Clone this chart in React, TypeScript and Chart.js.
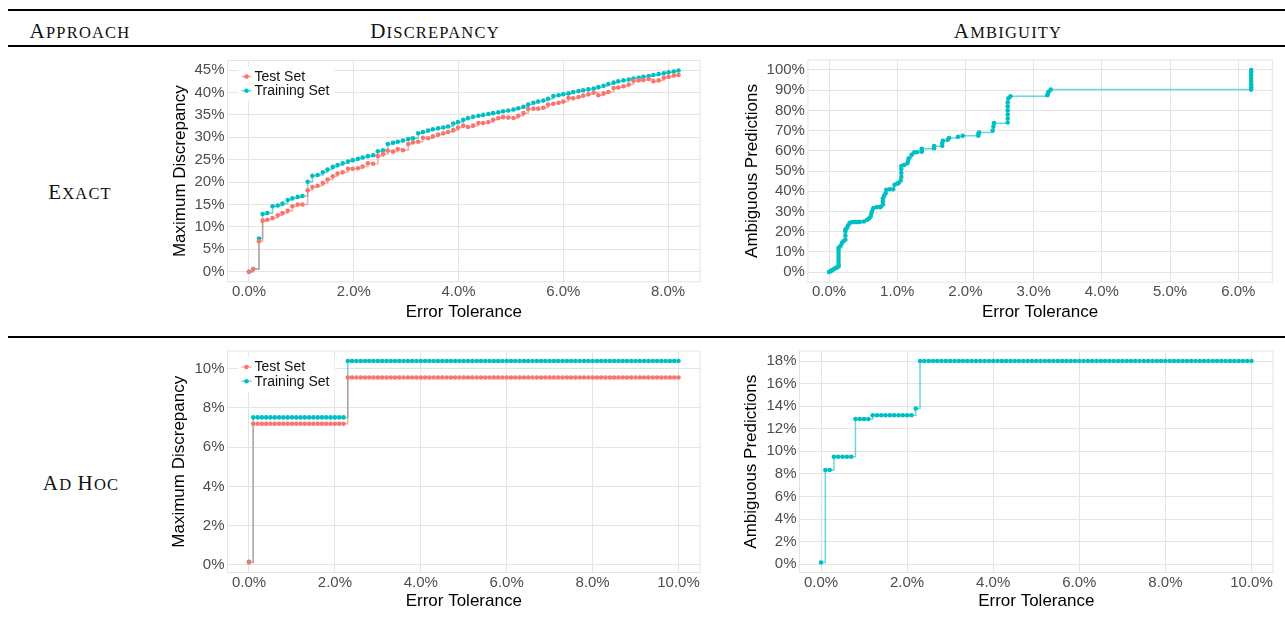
import React, { useEffect, useRef } from 'react';
import { Chart, registerables } from 'chart.js';

Chart.register(...registerables);

// ---------------- DATA ----------------
const seriesLabels = ['Test Set', 'Training Set'];
const rowLabels = ['Exact', 'Ad Hoc'];
const columnLabels = ['Approach', 'Discrepancy', 'Ambiguity'];
const xAxisTitle = 'Error Tolerance';
const discTitle = 'Maximum Discrepancy';
const ambTitle = 'Ambiguous Predictions';

// Exact approach: discrepancy vs error tolerance (%)
const exactTolerance = [
  0, 0.08, 0.19, 0.26, 0.35, 0.45, 0.55, 0.64, 0.74, 0.83, 0.93, 1.02, 1.12, 1.21, 1.31, 1.41, 1.5, 1.6,
  1.69, 1.79, 1.89, 1.98, 2.08, 2.17, 2.27, 2.37, 2.46, 2.56, 2.65, 2.75, 2.84, 2.94, 3.04, 3.13, 3.23,
  3.32, 3.42, 3.51, 3.61, 3.71, 3.8, 3.9, 3.99, 4.09, 4.18, 4.28, 4.38, 4.47, 4.57, 4.66, 4.76, 4.85,
  4.95, 5.05, 5.14, 5.24, 5.33, 5.43, 5.52, 5.62, 5.71, 5.81, 5.91, 6.0, 6.1, 6.19, 6.29, 6.38, 6.48,
  6.58, 6.67, 6.77, 6.86, 6.96, 7.05, 7.15, 7.25, 7.34, 7.44, 7.53, 7.63, 7.72, 7.82, 7.92, 8.01, 8.11, 8.2,
];
const exactTestDisc = [
  0.0, 0.6, 6.8, 11.4, 11.6, 12.0, 12.6, 13.1, 13.6, 14.6, 15.0, 15.0, 18.2, 18.9, 19.2, 19.8, 20.6, 21.3,
  21.9, 22.2, 23.0, 23.0, 23.1, 23.5, 24.2, 24.1, 25.8, 26.3, 27.0, 26.8, 27.4, 27.1, 28.5, 28.9, 29.0,
  29.9, 29.8, 30.2, 30.6, 30.9, 31.2, 31.6, 32.2, 32.6, 32.3, 32.6, 33.2, 33.2, 33.4, 33.9, 34.3, 34.5,
  34.4, 34.3, 34.8, 35.4, 36.3, 36.4, 36.4, 36.6, 37.3, 37.5, 37.7, 38.0, 38.8, 38.7, 39.0, 39.3, 39.6,
  40.0, 39.4, 39.8, 40.1, 41.0, 41.1, 41.4, 41.8, 42.6, 42.7, 42.8, 43.0, 42.5, 42.7, 43.3, 43.5, 43.8, 43.9,
];
const exactTrainDisc = [
  0.0, 0.6, 7.4, 12.9, 13.1, 14.6, 14.8, 15.2, 16.0, 16.4, 16.7, 16.9, 20.1, 21.4, 21.6, 22.2, 22.8, 23.4,
  23.8, 24.2, 24.6, 24.9, 25.2, 25.5, 25.8, 26.0, 26.9, 27.1, 28.5, 28.8, 29.0, 29.3, 29.6, 29.8, 30.9,
  31.2, 31.5, 31.8, 32.0, 32.2, 32.4, 33.1, 33.4, 33.9, 34.3, 34.6, 34.8, 35.0, 35.2, 35.4, 35.6, 35.8,
  36.0, 36.2, 36.5, 36.8, 37.3, 37.7, 38.0, 38.2, 38.6, 39.2, 39.4, 39.6, 39.8, 40.1, 40.3, 40.5, 40.7,
  40.9, 41.2, 41.5, 41.9, 42.2, 42.5, 42.7, 42.9, 43.1, 43.3, 43.5, 43.7, 43.9, 44.1, 44.3, 44.5, 44.7, 44.9,
];

// Exact approach: ambiguity vs error tolerance (%)
const exactAmbTolerance = [
  0, 0.02, 0.04, 0.06, 0.08, 0.1, 0.12, 0.14,
  0.14, 0.14, 0.14, 0.14, 0.14, 0.14, 0.14,
  0.17, 0.19, 0.21,
  0.24, 0.24, 0.24, 0.24,
  0.26, 0.28, 0.3,
  0.33, 0.37, 0.41, 0.45,
  0.51, 0.56, 0.59, 0.61, 0.62, 0.63, 0.65, 0.7, 0.75,
  0.79, 0.79, 0.79, 0.81, 0.83, 0.84, 0.89, 0.94,
  0.96, 1.0, 1.02, 1.05,
  1.06, 1.06, 1.06, 1.06,
  1.1, 1.15, 1.16, 1.17, 1.21, 1.25, 1.29,
  1.36, 1.36, 1.36,
  1.54, 1.54,
  1.66, 1.66, 1.67, 1.74, 1.76, 1.89, 1.96,
  2.19, 2.19, 2.2,
  2.4, 2.41, 2.42,
  2.62, 2.62, 2.62, 2.62, 2.62, 2.62, 2.63, 2.66,
  3.2, 3.21, 3.22, 3.25,
  6.19, 6.19, 6.19, 6.19, 6.19, 6.19, 6.19, 6.19,
];
const exactAmbiguous = [
  0, 0.4, 0.8, 1.2, 1.6, 2.0, 2.4, 2.8,
  3.6, 5.0, 6.5, 8.0, 9.5, 11.0, 12.0,
  13.0, 14.3, 15.2,
  16.0, 18.0, 20.0, 21.0,
  21.7, 23.0, 24.2,
  24.6, 24.7, 24.7, 24.8,
  25.0, 25.9, 26.6, 27.5, 28.8, 30.0, 31.6, 32.1, 32.1,
  33.5, 35.0, 36.5, 37.8, 39.0, 40.7, 41.0, 41.0,
  43.2, 43.8, 44.0, 45.3,
  47.0, 49.0, 51.0, 52.5,
  53.0, 53.9, 55.0, 56.3, 58.0, 59.3, 59.3,
  59.5, 60.3, 61.0,
  61.3, 62.3,
  62.5, 63.8, 65.0, 65.5, 66.3, 66.9, 67.4,
  67.5, 68.3, 69.0,
  70.0, 72.0, 73.7,
  74.0, 76.0, 78.0, 80.0, 82.0, 84.0, 86.0, 87.0,
  87.5, 88.3, 89.2, 90.3,
  90.3, 91.5, 93.0, 94.5, 96.0, 97.5, 99.0, 100.0,
];

// Ad hoc approach (%)
const adHocTolerance = [
  0.0, 0.1, 0.2, 0.3, 0.4, 0.5, 0.6, 0.7, 0.8, 0.9,
  1.0, 1.1, 1.2, 1.3, 1.4, 1.5, 1.6, 1.7, 1.8, 1.9,
  2.0, 2.1, 2.2, 2.3, 2.4, 2.5, 2.6, 2.7, 2.8, 2.9,
  3.0, 3.1, 3.2, 3.3, 3.4, 3.5, 3.6, 3.7, 3.8, 3.9,
  4.0, 4.1, 4.2, 4.3, 4.4, 4.5, 4.6, 4.7, 4.8, 4.9,
  5.0, 5.1, 5.2, 5.3, 5.4, 5.5, 5.6, 5.7, 5.8, 5.9,
  6.0, 6.1, 6.2, 6.3, 6.4, 6.5, 6.6, 6.7, 6.8, 6.9,
  7.0, 7.1, 7.2, 7.3, 7.4, 7.5, 7.6, 7.7, 7.8, 7.9,
  8.0, 8.1, 8.2, 8.3, 8.4, 8.5, 8.6, 8.7, 8.8, 8.9,
  9.0, 9.1, 9.2, 9.3, 9.4, 9.5, 9.6, 9.7, 9.8, 9.9,
  10.0,
];
const adHocTestDisc = [
  0.13, 7.2, 7.2, 7.2, 7.2, 7.2, 7.2, 7.2, 7.2, 7.2,
  7.2, 7.2, 7.2, 7.2, 7.2, 7.2, 7.2, 7.2, 7.2, 7.2,
  7.2, 7.2, 7.2, 9.55, 9.55, 9.55, 9.55, 9.55, 9.55, 9.55,
  9.55, 9.55, 9.55, 9.55, 9.55, 9.55, 9.55, 9.55, 9.55, 9.55,
  9.55, 9.55, 9.55, 9.55, 9.55, 9.55, 9.55, 9.55, 9.55, 9.55,
  9.55, 9.55, 9.55, 9.55, 9.55, 9.55, 9.55, 9.55, 9.55, 9.55,
  9.55, 9.55, 9.55, 9.55, 9.55, 9.55, 9.55, 9.55, 9.55, 9.55,
  9.55, 9.55, 9.55, 9.55, 9.55, 9.55, 9.55, 9.55, 9.55, 9.55,
  9.55, 9.55, 9.55, 9.55, 9.55, 9.55, 9.55, 9.55, 9.55, 9.55,
  9.55, 9.55, 9.55, 9.55, 9.55, 9.55, 9.55, 9.55, 9.55, 9.55,
  9.55,
];
const adHocTrainDisc = [
  0.16, 7.52, 7.52, 7.52, 7.52, 7.52, 7.52, 7.52, 7.52, 7.52,
  7.52, 7.52, 7.52, 7.52, 7.52, 7.52, 7.52, 7.52, 7.52, 7.52,
  7.52, 7.52, 7.52, 10.39, 10.39, 10.39, 10.39, 10.39, 10.39, 10.39,
  10.39, 10.39, 10.39, 10.39, 10.39, 10.39, 10.39, 10.39, 10.39, 10.39,
  10.39, 10.39, 10.39, 10.39, 10.39, 10.39, 10.39, 10.39, 10.39, 10.39,
  10.39, 10.39, 10.39, 10.39, 10.39, 10.39, 10.39, 10.39, 10.39, 10.39,
  10.39, 10.39, 10.39, 10.39, 10.39, 10.39, 10.39, 10.39, 10.39, 10.39,
  10.39, 10.39, 10.39, 10.39, 10.39, 10.39, 10.39, 10.39, 10.39, 10.39,
  10.39, 10.39, 10.39, 10.39, 10.39, 10.39, 10.39, 10.39, 10.39, 10.39,
  10.39, 10.39, 10.39, 10.39, 10.39, 10.39, 10.39, 10.39, 10.39, 10.39,
  10.39,
];
const adHocAmbiguous = [
  0.15, 8.34, 8.34, 9.52, 9.52, 9.52, 9.52, 9.52, 12.86, 12.86,
  12.86, 12.86, 13.2, 13.2, 13.2, 13.2, 13.2, 13.2, 13.2, 13.2,
  13.2, 13.2, 13.8, 18.0, 18.0, 18.0, 18.0, 18.0, 18.0, 18.0,
  18.0, 18.0, 18.0, 18.0, 18.0, 18.0, 18.0, 18.0, 18.0, 18.0,
  18.0, 18.0, 18.0, 18.0, 18.0, 18.0, 18.0, 18.0, 18.0, 18.0,
  18.0, 18.0, 18.0, 18.0, 18.0, 18.0, 18.0, 18.0, 18.0, 18.0,
  18.0, 18.0, 18.0, 18.0, 18.0, 18.0, 18.0, 18.0, 18.0, 18.0,
  18.0, 18.0, 18.0, 18.0, 18.0, 18.0, 18.0, 18.0, 18.0, 18.0,
  18.0, 18.0, 18.0, 18.0, 18.0, 18.0, 18.0, 18.0, 18.0, 18.0,
  18.0, 18.0, 18.0, 18.0, 18.0, 18.0, 18.0, 18.0, 18.0, 18.0,
  18.0,
];

// Tick values
const exactDiscXTicks = [0, 2, 4, 6, 8];
const exactDiscYTicks = [0, 5, 10, 15, 20, 25, 30, 35, 40, 45];
const exactAmbXTicks = [0, 1, 2, 3, 4, 5, 6];
const exactAmbYTicks = [0, 10, 20, 30, 40, 50, 60, 70, 80, 90, 100];
const adHocXTicks = [0, 2, 4, 6, 8, 10];
const adHocDiscYTicks = [0, 2, 4, 6, 8, 10];
const adHocAmbYTicks = [0, 2, 4, 6, 8, 10, 12, 14, 16, 18];

// ---------------- STYLE ----------------
const RED = '#F8766D';
const TEAL = '#00BFC4';
const RED_LINE = 'rgba(248,118,109,0.6)';
const TEAL_LINE = 'rgba(0,191,196,0.6)';
const GRID = '#E4E4E4';
const SANS = "'Liberation Sans', Arial, Helvetica, sans-serif";
const SERIF = "'Liberation Serif', 'Times New Roman', serif";

const toPoints = (xs: number[], ys: number[]) => xs.map((x, i) => ({ x, y: ys[i] }));
const expand = (vals: number[]) => {
  const lo = Math.min(...vals);
  const hi = Math.max(...vals);
  const pad = (hi - lo) * 0.05;
  return [lo - pad, hi + pad];
};

const panelDecor = {
  id: 'panelDecor',
  beforeDatasetsDraw(chart: any, _args: any, opts: any) {
    const { ctx, chartArea: a } = chart;
    ctx.save();
    ctx.strokeStyle = GRID;
    ctx.lineWidth = 1;
    ctx.strokeRect(a.left, a.top, a.right - a.left, a.bottom - a.top);
    if (opts && opts.legend) {
      const fs = 14;
      ctx.font = `${fs}px ${SANS}`;
      const dsets = chart.data.datasets;
      const dotX = a.left + 19;
      const firstY = a.top + 16;
      const rowH = 14.2;
      const textX = dotX + 8;
      const tw = Math.max(...dsets.map((d: any) => ctx.measureText(d.label).width));
      ctx.fillStyle = '#ffffff';
      ctx.fillRect(dotX - 9, firstY - 10, textX + tw + 5 - (dotX - 9), rowH * (dsets.length - 1) + 20);
      dsets.forEach((d: any, i: number) => {
        const cy = firstY + i * rowH;
        ctx.strokeStyle = d.borderColor;
        ctx.lineWidth = 1.5;
        ctx.beginPath();
        ctx.moveTo(dotX - 5, cy);
        ctx.lineTo(dotX + 5, cy);
        ctx.stroke();
        ctx.fillStyle = d.pointBackgroundColor;
        ctx.beginPath();
        ctx.arc(dotX, cy, 2.3, 0, Math.PI * 2);
        ctx.fill();
        ctx.fillStyle = '#111';
        ctx.textBaseline = 'middle';
        ctx.textAlign = 'left';
        ctx.fillText(d.label, textX, cy + 0.5);
      });
    }
    ctx.restore();
  },
};

type PanelCfg = {
  left: number; right: number; top: number; bottom: number;
  yTitleX: number; xTitleY: number;
  xVals: number[]; yVals: number[];
  xTicks: number[]; yTicks: number[];
  yTitle: string; legend: boolean;
  datasets: any[];
};

const mkSet = (label: string, color: string, line: string, pts: any[]) => ({
  label,
  data: pts,
  borderColor: line,
  backgroundColor: color,
  pointBackgroundColor: color,
  pointBorderWidth: 0,
  pointRadius: 2.3,
  borderWidth: 1.5,
  stepped: true,
  fill: false,
});

const panels: PanelCfg[] = [
  {
    left: 227.5, right: 700, top: 60.5, bottom: 281.8, yTitleX: 180, xTitleY: 312,
    xVals: exactTolerance, yVals: [...exactTestDisc, ...exactTrainDisc],
    xTicks: exactDiscXTicks, yTicks: exactDiscYTicks, yTitle: discTitle, legend: true,
    datasets: [
      mkSet(seriesLabels[0], RED, RED_LINE, toPoints(exactTolerance, exactTestDisc)),
      mkSet(seriesLabels[1], TEAL, TEAL_LINE, toPoints(exactTolerance, exactTrainDisc)),
    ],
  },
  {
    left: 807.9, right: 1272.3, top: 59.9, bottom: 282.1, yTitleX: 752, xTitleY: 312,
    xVals: exactAmbTolerance, yVals: exactAmbiguous,
    xTicks: exactAmbXTicks, yTicks: exactAmbYTicks, yTitle: ambTitle, legend: false,
    datasets: [mkSet('Ambiguity', TEAL, TEAL_LINE, toPoints(exactAmbTolerance, exactAmbiguous))],
  },
  {
    left: 227.5, right: 700, top: 351, bottom: 572.5, yTitleX: 179, xTitleY: 601.7,
    xVals: adHocTolerance, yVals: [...adHocTestDisc, ...adHocTrainDisc],
    xTicks: adHocXTicks, yTicks: adHocDiscYTicks, yTitle: discTitle, legend: true,
    datasets: [
      mkSet(seriesLabels[0], RED, RED_LINE, toPoints(adHocTolerance, adHocTestDisc)),
      mkSet(seriesLabels[1], TEAL, TEAL_LINE, toPoints(adHocTolerance, adHocTrainDisc)),
    ],
  },
  {
    left: 799.5, right: 1273, top: 351, bottom: 572.5, yTitleX: 751.4, xTitleY: 601.7,
    xVals: adHocTolerance, yVals: adHocAmbiguous,
    xTicks: adHocXTicks, yTicks: adHocAmbYTicks, yTitle: ambTitle, legend: false,
    datasets: [mkSet('Ambiguity', TEAL, TEAL_LINE, toPoints(adHocTolerance, adHocAmbiguous))],
  },
];

const TITLE_FS = 17;
const TICK_FS = 15;

function geometry(p: PanelCfg) {
  const scaleLeft = p.yTitleX - TITLE_FS / 2;
  const xScaleBottom = p.xTitleY + TITLE_FS / 2;
  const cl = Math.floor(scaleLeft - 12);
  const ct = Math.floor(p.top - 25);
  const cr = Math.ceil(p.right + 22);
  const cb = Math.ceil(xScaleBottom + 8);
  return {
    cl, ct, w: cr - cl, h: cb - ct,
    padding: { left: scaleLeft - cl, top: p.top - ct, right: cr - p.right, bottom: cb - xScaleBottom },
    yWidth: p.left - scaleLeft,
    xHeight: xScaleBottom - p.bottom,
  };
}

function PanelChart({ p }: { p: PanelCfg }) {
  const ref = useRef<HTMLCanvasElement>(null);
  const g = geometry(p);
  useEffect(() => {
    const [xMin, xMax] = expand(p.xVals);
    const [yMin, yMax] = expand(p.yVals);
    const chart = new Chart(ref.current as HTMLCanvasElement, {
      type: 'line',
      data: { datasets: p.datasets },
      plugins: [panelDecor],
      options: {
        animation: false,
        responsive: false,
        events: [],
        layout: { padding: g.padding },
        plugins: {
          legend: { display: false },
          tooltip: { enabled: false },
          panelDecor: { legend: p.legend },
        } as any,
        scales: {
          x: {
            type: 'linear',
            min: xMin,
            max: xMax,
            afterBuildTicks: (s: any) => { s.ticks = p.xTicks.map((v) => ({ value: v })); },
            afterFit: (s: any) => { s.height = g.xHeight; },
            grid: { color: GRID, lineWidth: 1, drawTicks: false },
            border: { display: false },
            ticks: {
              autoSkip: false, maxRotation: 0, padding: 1, color: '#4D4D4D',
              font: { family: SANS, size: TICK_FS },
              callback: (v: any) => `${Number(v).toFixed(1)}%`,
            },
            title: {
              display: true, text: xAxisTitle, color: '#000', padding: 0,
              font: { family: SANS, size: TITLE_FS, lineHeight: 1 },
            },
          },
          y: {
            type: 'linear',
            min: yMin,
            max: yMax,
            afterBuildTicks: (s: any) => { s.ticks = p.yTicks.map((v) => ({ value: v })); },
            afterFit: (s: any) => { s.width = g.yWidth; },
            grid: { color: GRID, lineWidth: 1, drawTicks: false },
            border: { display: false },
            ticks: {
              autoSkip: false, padding: 3, color: '#4D4D4D',
              font: { family: SANS, size: TICK_FS },
              callback: (v: any) => `${Math.round(Number(v))}%`,
            },
            title: {
              display: true, text: p.yTitle, color: '#000', padding: 0,
              font: { family: SANS, size: TITLE_FS, lineHeight: 1 },
            },
          },
        },
      } as any,
    });
    return () => chart.destroy();
  }, []);
  return (
    <canvas
      ref={ref}
      width={g.w}
      height={g.h}
      style={{ position: 'absolute', left: g.cl, top: g.ct, width: g.w, height: g.h }}
    />
  );
}

function SmallCaps({ text, x, y }: { text: string; x: number; y: number }) {
  const words = text.split(' ');
  return (
    <div
      style={{
        position: 'absolute', left: x, top: y, transform: 'translate(-50%, -50%)',
        fontFamily: SERIF, color: '#111', whiteSpace: 'nowrap', lineHeight: 1, letterSpacing: '1.2px',
      }}
    >
      {words.map((w, i) => (
        <React.Fragment key={i}>
          {i > 0 ? ' ' : null}
          <span style={{ fontSize: 21 }}>{w[0]}</span>
          <span style={{ fontSize: 16.5, textTransform: 'uppercase' }}>{w.slice(1)}</span>
        </React.Fragment>
      ))}
    </div>
  );
}

const rule = (top: number) => (
  <div style={{ position: 'absolute', left: 8, top, width: 1277, height: 2, background: '#000' }} />
);

export default function App() {
  return (
    <div style={{ position: 'fixed', left: 0, top: 0, width: 1285, height: 624, background: '#fff', overflow: 'hidden' }}>
      {rule(9)}
      {rule(45)}
      {rule(336)}
      <SmallCaps text={columnLabels[0]} x={80} y={31} />
      <SmallCaps text={columnLabels[1]} x={435} y={31} />
      <SmallCaps text={columnLabels[2]} x={1008} y={31} />
      <SmallCaps text={rowLabels[0]} x={80} y={192} />
      <SmallCaps text={rowLabels[1]} x={81} y={483} />
      {panels.map((p, i) => <PanelChart key={i} p={p} />)}
    </div>
  );
}
